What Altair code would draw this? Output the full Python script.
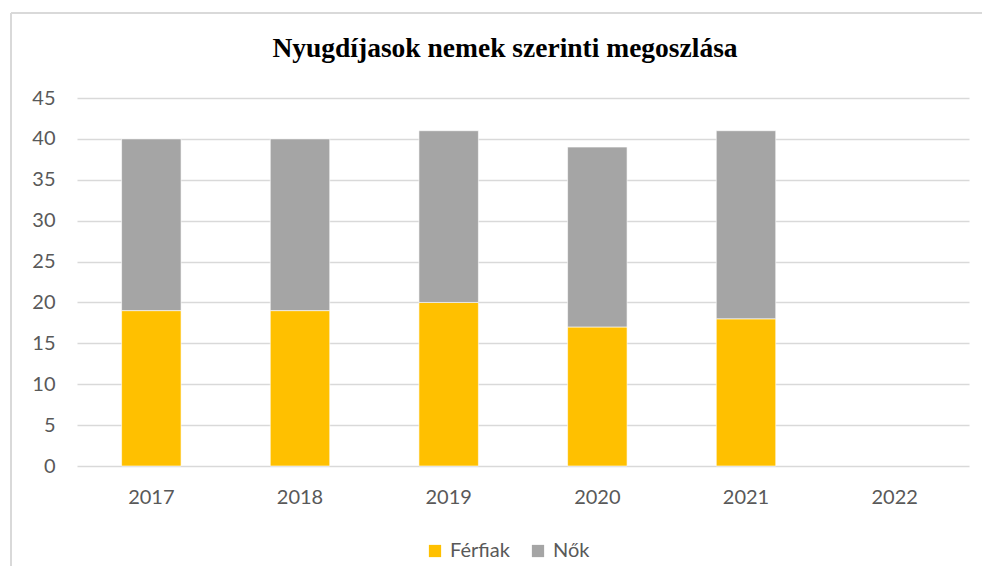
import altair as alt
import pandas as pd

years = ["2017", "2018", "2019", "2020", "2021", "2022"]
data_years = ["2017", "2018", "2019", "2020", "2021"]
ferfiak = [19, 19, 20, 17, 18]
nok = [21, 21, 21, 22, 23]
series = ["Férfiak", "Nők"]
colors = ["#FFC000", "#A5A5A5"]
y_ticks = [0, 5, 10, 15, 20, 25, 30, 35, 40, 45]
title_text = "Nyugdíjasok nemek szerinti megoszlása"

rows = []
for i, yr in enumerate(data_years):
    rows.append({"ev": yr, "nem": series[0], "ertek": ferfiak[i], "sorrend": 0})
    rows.append({"ev": yr, "nem": series[1], "ertek": nok[i], "sorrend": 1})
df = pd.DataFrame(rows)

FONT = "Lato"
LABEL_COLOR = "#595959"
GRID = "#D9D9D9"

bars = alt.Chart(df).mark_bar(stroke="#FFFFFF", strokeWidth=0.6).encode(
    x=alt.X("ev:N", scale=alt.Scale(domain=years, paddingInner=0.6, paddingOuter=0.3),
            axis=alt.Axis(title=None, labelAngle=0, ticks=False, domain=False, grid=False,
                          labelFont=FONT, labelFontSize=20, labelColor=LABEL_COLOR,
                          labelPadding=21)),
    y=alt.Y("ertek:Q", stack="zero", scale=alt.Scale(domain=[0, 45], nice=False),
            axis=alt.Axis(title=None, values=y_ticks, ticks=False, domain=False,
                          gridColor=GRID, gridWidth=1.6,
                          labelFont=FONT, labelFontSize=20, labelColor=LABEL_COLOR,
                          labelPadding=22)),
    color=alt.Color("nem:N", scale=alt.Scale(domain=series, range=colors),
                    legend=alt.Legend(title=None, orient="none", direction="horizontal",
                                      legendX=348, legendY=443, symbolType="square",
                                      symbolSize=150, symbolStrokeWidth=0,
                                      labelFont=FONT, labelFontSize=20,
                                      labelColor=LABEL_COLOR, columnPadding=18,
                                      labelOffset=5, symbolOffset=0)),
    order=alt.Order("sorrend:Q"),
)

one = pd.DataFrame({"a": [0]})

border_top = alt.Chart(one).mark_rule(color="#D9D9D9", strokeWidth=2).encode(
    x=alt.value(-66), x2=alt.value(913), y=alt.value(-85)
)
border_left = alt.Chart(one).mark_rule(color="#D9D9D9", strokeWidth=2).encode(
    x=alt.value(-66), y=alt.value(-85), y2=alt.value(483)
)
title = alt.Chart(one).mark_text(
    font="Liberation Serif", fontSize=27.5, fontWeight="bold", color="#000000",
    align="center", baseline="alphabetic"
).encode(x=alt.value(428), y=alt.value(-41), text=alt.value(title_text))

chart = alt.layer(border_top, border_left, title, bars).properties(
    width=892,
    height=368,
    autosize=alt.AutoSizeParams(type="none"),
    padding={"left": 69, "top": 90, "right": 13, "bottom": 100},
    background="#FFFFFF",
).configure_view(stroke=None)

chart.save("out.html", embed_options={"renderer": "svg", "actions": False})
